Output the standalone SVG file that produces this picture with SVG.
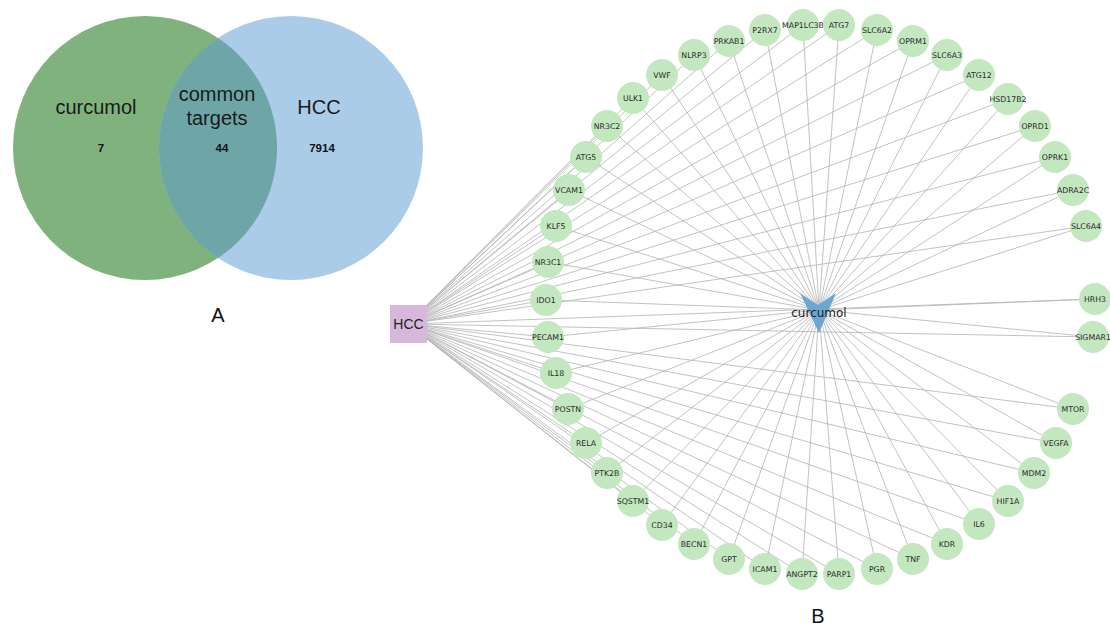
<svg xmlns="http://www.w3.org/2000/svg" width="1110" height="626" viewBox="0 0 1110 626">
<style>
.venn{font-family:"Liberation Sans",Arial,sans-serif;font-size:20px;fill:#1a1a1a;text-anchor:middle}
.num{font-family:"Liberation Sans",Arial,sans-serif;font-size:11.5px;font-weight:bold;fill:#111;text-anchor:middle}
.panel{font-family:"Liberation Sans",Arial,sans-serif;font-size:20px;fill:#111;text-anchor:middle}
.edge{stroke:#b3b3b3;stroke-width:0.8;fill:none}
.nd circle{fill:#c3e8bf}
.nd text{font-family:"DejaVu Sans",sans-serif;font-size:7.8px;fill:#2a2a2a;text-anchor:middle}
</style>
<rect width="1110" height="626" fill="#ffffff"/>
<g id="venn">
<circle cx="145" cy="148" r="132" fill="#80b27e"/>
<circle cx="291" cy="148" r="132" fill="#aacce8"/>
<path d="M218,38 A132,132 0 0,1 218,258 A132,132 0 0,1 218,38 Z" fill="#6ea6a8"/>
<text class="venn" x="96" y="114">curcumol</text>
<text class="venn" x="217" y="101">common</text>
<text class="venn" x="217" y="125">targets</text>
<text class="venn" x="319" y="114">HCC</text>
<text class="num" x="101" y="152">7</text>
<text class="num" x="222" y="152">44</text>
<text class="num" x="322" y="152">7914</text>
</g>
<text class="panel" x="218" y="322">A</text>
<text class="panel" x="818" y="623">B</text>
<g id="connectors">
<g id="hcc-edges">
<line class="edge" x1="408" y1="324" x2="803" y2="25"/>
<line class="edge" x1="408" y1="324" x2="839" y2="25"/>
<line class="edge" x1="408" y1="324" x2="877" y2="30"/>
<line class="edge" x1="408" y1="324" x2="913" y2="41"/>
<line class="edge" x1="408" y1="324" x2="947" y2="55"/>
<line class="edge" x1="408" y1="324" x2="979" y2="75"/>
<line class="edge" x1="408" y1="324" x2="1008" y2="99"/>
<line class="edge" x1="408" y1="324" x2="1035" y2="126"/>
<line class="edge" x1="408" y1="324" x2="1055" y2="157"/>
<line class="edge" x1="408" y1="324" x2="1073" y2="190"/>
<line class="edge" x1="408" y1="324" x2="1086" y2="226"/>
<line class="edge" x1="408" y1="324" x2="1095" y2="299"/>
<line class="edge" x1="408" y1="324" x2="1093" y2="337"/>
<line class="edge" x1="408" y1="324" x2="1073" y2="409"/>
<line class="edge" x1="408" y1="324" x2="1056" y2="443"/>
<line class="edge" x1="408" y1="324" x2="1034" y2="473"/>
<line class="edge" x1="408" y1="324" x2="1008" y2="501"/>
<line class="edge" x1="408" y1="324" x2="979" y2="524"/>
<line class="edge" x1="408" y1="324" x2="947" y2="544"/>
<line class="edge" x1="408" y1="324" x2="913" y2="559"/>
<line class="edge" x1="408" y1="324" x2="877" y2="569"/>
<line class="edge" x1="408" y1="324" x2="839" y2="574"/>
<line class="edge" x1="408" y1="324" x2="802" y2="574"/>
<line class="edge" x1="408" y1="324" x2="765" y2="569"/>
<line class="edge" x1="408" y1="324" x2="729" y2="559"/>
<line class="edge" x1="408" y1="324" x2="694" y2="544"/>
<line class="edge" x1="408" y1="324" x2="662" y2="525"/>
<line class="edge" x1="408" y1="324" x2="633" y2="501"/>
<line class="edge" x1="408" y1="324" x2="607" y2="473"/>
<line class="edge" x1="408" y1="324" x2="586" y2="443"/>
<line class="edge" x1="408" y1="324" x2="568" y2="409"/>
<line class="edge" x1="408" y1="324" x2="556" y2="373"/>
<line class="edge" x1="408" y1="324" x2="548" y2="337"/>
<line class="edge" x1="408" y1="324" x2="546" y2="300"/>
<line class="edge" x1="408" y1="324" x2="548" y2="262"/>
<line class="edge" x1="408" y1="324" x2="556" y2="226"/>
<line class="edge" x1="408" y1="324" x2="569" y2="190"/>
<line class="edge" x1="408" y1="324" x2="586" y2="157"/>
<line class="edge" x1="408" y1="324" x2="607" y2="126"/>
<line class="edge" x1="408" y1="324" x2="633" y2="98"/>
<line class="edge" x1="408" y1="324" x2="662" y2="75"/>
<line class="edge" x1="408" y1="324" x2="694" y2="55"/>
<line class="edge" x1="408" y1="324" x2="729" y2="41"/>
<line class="edge" x1="408" y1="324" x2="765" y2="30"/>
</g>
<g id="curcumol-edges">
<line class="edge" x1="819" y1="310" x2="803" y2="25"/>
<line class="edge" x1="819" y1="310" x2="839" y2="25"/>
<line class="edge" x1="819" y1="310" x2="877" y2="30"/>
<line class="edge" x1="819" y1="310" x2="913" y2="41"/>
<line class="edge" x1="819" y1="310" x2="947" y2="55"/>
<line class="edge" x1="819" y1="310" x2="979" y2="75"/>
<line class="edge" x1="819" y1="310" x2="1008" y2="99"/>
<line class="edge" x1="819" y1="310" x2="1035" y2="126"/>
<line class="edge" x1="819" y1="310" x2="1055" y2="157"/>
<line class="edge" x1="819" y1="310" x2="1073" y2="190"/>
<line class="edge" x1="819" y1="310" x2="1086" y2="226"/>
<line class="edge" x1="819" y1="310" x2="1095" y2="299"/>
<line class="edge" x1="819" y1="310" x2="1093" y2="337"/>
<line class="edge" x1="819" y1="310" x2="1073" y2="409"/>
<line class="edge" x1="819" y1="310" x2="1056" y2="443"/>
<line class="edge" x1="819" y1="310" x2="1034" y2="473"/>
<line class="edge" x1="819" y1="310" x2="1008" y2="501"/>
<line class="edge" x1="819" y1="310" x2="979" y2="524"/>
<line class="edge" x1="819" y1="310" x2="947" y2="544"/>
<line class="edge" x1="819" y1="310" x2="913" y2="559"/>
<line class="edge" x1="819" y1="310" x2="877" y2="569"/>
<line class="edge" x1="819" y1="310" x2="839" y2="574"/>
<line class="edge" x1="819" y1="310" x2="802" y2="574"/>
<line class="edge" x1="819" y1="310" x2="765" y2="569"/>
<line class="edge" x1="819" y1="310" x2="729" y2="559"/>
<line class="edge" x1="819" y1="310" x2="694" y2="544"/>
<line class="edge" x1="819" y1="310" x2="662" y2="525"/>
<line class="edge" x1="819" y1="310" x2="633" y2="501"/>
<line class="edge" x1="819" y1="310" x2="607" y2="473"/>
<line class="edge" x1="819" y1="310" x2="586" y2="443"/>
<line class="edge" x1="819" y1="310" x2="568" y2="409"/>
<line class="edge" x1="819" y1="310" x2="556" y2="373"/>
<line class="edge" x1="819" y1="310" x2="548" y2="337"/>
<line class="edge" x1="819" y1="310" x2="546" y2="300"/>
<line class="edge" x1="819" y1="310" x2="548" y2="262"/>
<line class="edge" x1="819" y1="310" x2="556" y2="226"/>
<line class="edge" x1="819" y1="310" x2="569" y2="190"/>
<line class="edge" x1="819" y1="310" x2="586" y2="157"/>
<line class="edge" x1="819" y1="310" x2="607" y2="126"/>
<line class="edge" x1="819" y1="310" x2="633" y2="98"/>
<line class="edge" x1="819" y1="310" x2="662" y2="75"/>
<line class="edge" x1="819" y1="310" x2="694" y2="55"/>
<line class="edge" x1="819" y1="310" x2="729" y2="41"/>
<line class="edge" x1="819" y1="310" x2="765" y2="30"/>
</g>
</g>
<g id="node-HCC">
<rect x="390" y="305" width="37" height="38" fill="#d7b8dc"/>
<text x="408.5" y="329" font-family="Liberation Sans, Arial, sans-serif" font-size="14" fill="#222" text-anchor="middle">HCC</text>
</g>
<g id="node-curcumol">
<polygon points="800,293 818,305 836,293 819,333" fill="#6ea6d2"/>
<text x="819" y="317" font-family="DejaVu Sans, sans-serif" font-size="12" fill="#222" text-anchor="middle">curcumol</text>
</g>
<g id="node-MAP1LC3B" class="nd"><circle cx="803" cy="25" r="16"/><text x="803" y="27.8">MAP1LC3B</text></g>
<g id="node-ATG7" class="nd"><circle cx="839" cy="25" r="16"/><text x="839" y="27.8">ATG7</text></g>
<g id="node-SLC6A2" class="nd"><circle cx="877" cy="30" r="16"/><text x="877" y="32.8">SLC6A2</text></g>
<g id="node-OPRM1" class="nd"><circle cx="913" cy="41" r="16"/><text x="913" y="43.8">OPRM1</text></g>
<g id="node-SLC6A3" class="nd"><circle cx="947" cy="55" r="16"/><text x="947" y="57.8">SLC6A3</text></g>
<g id="node-ATG12" class="nd"><circle cx="979" cy="75" r="16"/><text x="979" y="77.8">ATG12</text></g>
<g id="node-HSD17B2" class="nd"><circle cx="1008" cy="99" r="16"/><text x="1008" y="101.8">HSD17B2</text></g>
<g id="node-OPRD1" class="nd"><circle cx="1035" cy="126" r="16"/><text x="1035" y="128.8">OPRD1</text></g>
<g id="node-OPRK1" class="nd"><circle cx="1055" cy="157" r="16"/><text x="1055" y="159.8">OPRK1</text></g>
<g id="node-ADRA2C" class="nd"><circle cx="1073" cy="190" r="16"/><text x="1073" y="192.8">ADRA2C</text></g>
<g id="node-SLC6A4" class="nd"><circle cx="1086" cy="226" r="16"/><text x="1086" y="228.8">SLC6A4</text></g>
<g id="node-HRH3" class="nd"><circle cx="1095" cy="299" r="16"/><text x="1095" y="301.8">HRH3</text></g>
<g id="node-SIGMAR1" class="nd"><circle cx="1093" cy="337" r="16"/><text x="1093" y="339.8">SIGMAR1</text></g>
<g id="node-MTOR" class="nd"><circle cx="1073" cy="409" r="16"/><text x="1073" y="411.8">MTOR</text></g>
<g id="node-VEGFA" class="nd"><circle cx="1056" cy="443" r="16"/><text x="1056" y="445.8">VEGFA</text></g>
<g id="node-MDM2" class="nd"><circle cx="1034" cy="473" r="16"/><text x="1034" y="475.8">MDM2</text></g>
<g id="node-HIF1A" class="nd"><circle cx="1008" cy="501" r="16"/><text x="1008" y="503.8">HIF1A</text></g>
<g id="node-IL6" class="nd"><circle cx="979" cy="524" r="16"/><text x="979" y="526.8">IL6</text></g>
<g id="node-KDR" class="nd"><circle cx="947" cy="544" r="16"/><text x="947" y="546.8">KDR</text></g>
<g id="node-TNF" class="nd"><circle cx="913" cy="559" r="16"/><text x="913" y="561.8">TNF</text></g>
<g id="node-PGR" class="nd"><circle cx="877" cy="569" r="16"/><text x="877" y="571.8">PGR</text></g>
<g id="node-PARP1" class="nd"><circle cx="839" cy="574" r="16"/><text x="839" y="576.8">PARP1</text></g>
<g id="node-ANGPT2" class="nd"><circle cx="802" cy="574" r="16"/><text x="802" y="576.8">ANGPT2</text></g>
<g id="node-ICAM1" class="nd"><circle cx="765" cy="569" r="16"/><text x="765" y="571.8">ICAM1</text></g>
<g id="node-GPT" class="nd"><circle cx="729" cy="559" r="16"/><text x="729" y="561.8">GPT</text></g>
<g id="node-BECN1" class="nd"><circle cx="694" cy="544" r="16"/><text x="694" y="546.8">BECN1</text></g>
<g id="node-CD34" class="nd"><circle cx="662" cy="525" r="16"/><text x="662" y="527.8">CD34</text></g>
<g id="node-SQSTM1" class="nd"><circle cx="633" cy="501" r="16"/><text x="633" y="503.8">SQSTM1</text></g>
<g id="node-PTK2B" class="nd"><circle cx="607" cy="473" r="16"/><text x="607" y="475.8">PTK2B</text></g>
<g id="node-RELA" class="nd"><circle cx="586" cy="443" r="16"/><text x="586" y="445.8">RELA</text></g>
<g id="node-POSTN" class="nd"><circle cx="568" cy="409" r="16"/><text x="568" y="411.8">POSTN</text></g>
<g id="node-IL18" class="nd"><circle cx="556" cy="373" r="16"/><text x="556" y="375.8">IL18</text></g>
<g id="node-PECAM1" class="nd"><circle cx="548" cy="337" r="16"/><text x="548" y="339.8">PECAM1</text></g>
<g id="node-IDO1" class="nd"><circle cx="546" cy="300" r="16"/><text x="546" y="302.8">IDO1</text></g>
<g id="node-NR3C1" class="nd"><circle cx="548" cy="262" r="16"/><text x="548" y="264.8">NR3C1</text></g>
<g id="node-KLF5" class="nd"><circle cx="556" cy="226" r="16"/><text x="556" y="228.8">KLF5</text></g>
<g id="node-VCAM1" class="nd"><circle cx="569" cy="190" r="16"/><text x="569" y="192.8">VCAM1</text></g>
<g id="node-ATG5" class="nd"><circle cx="586" cy="157" r="16"/><text x="586" y="159.8">ATG5</text></g>
<g id="node-NR3C2" class="nd"><circle cx="607" cy="126" r="16"/><text x="607" y="128.8">NR3C2</text></g>
<g id="node-ULK1" class="nd"><circle cx="633" cy="98" r="16"/><text x="633" y="100.8">ULK1</text></g>
<g id="node-VWF" class="nd"><circle cx="662" cy="75" r="16"/><text x="662" y="77.8">VWF</text></g>
<g id="node-NLRP3" class="nd"><circle cx="694" cy="55" r="16"/><text x="694" y="57.8">NLRP3</text></g>
<g id="node-PRKAB1" class="nd"><circle cx="729" cy="41" r="16"/><text x="729" y="43.8">PRKAB1</text></g>
<g id="node-P2RX7" class="nd"><circle cx="765" cy="30" r="16"/><text x="765" y="32.8">P2RX7</text></g>
</svg>
